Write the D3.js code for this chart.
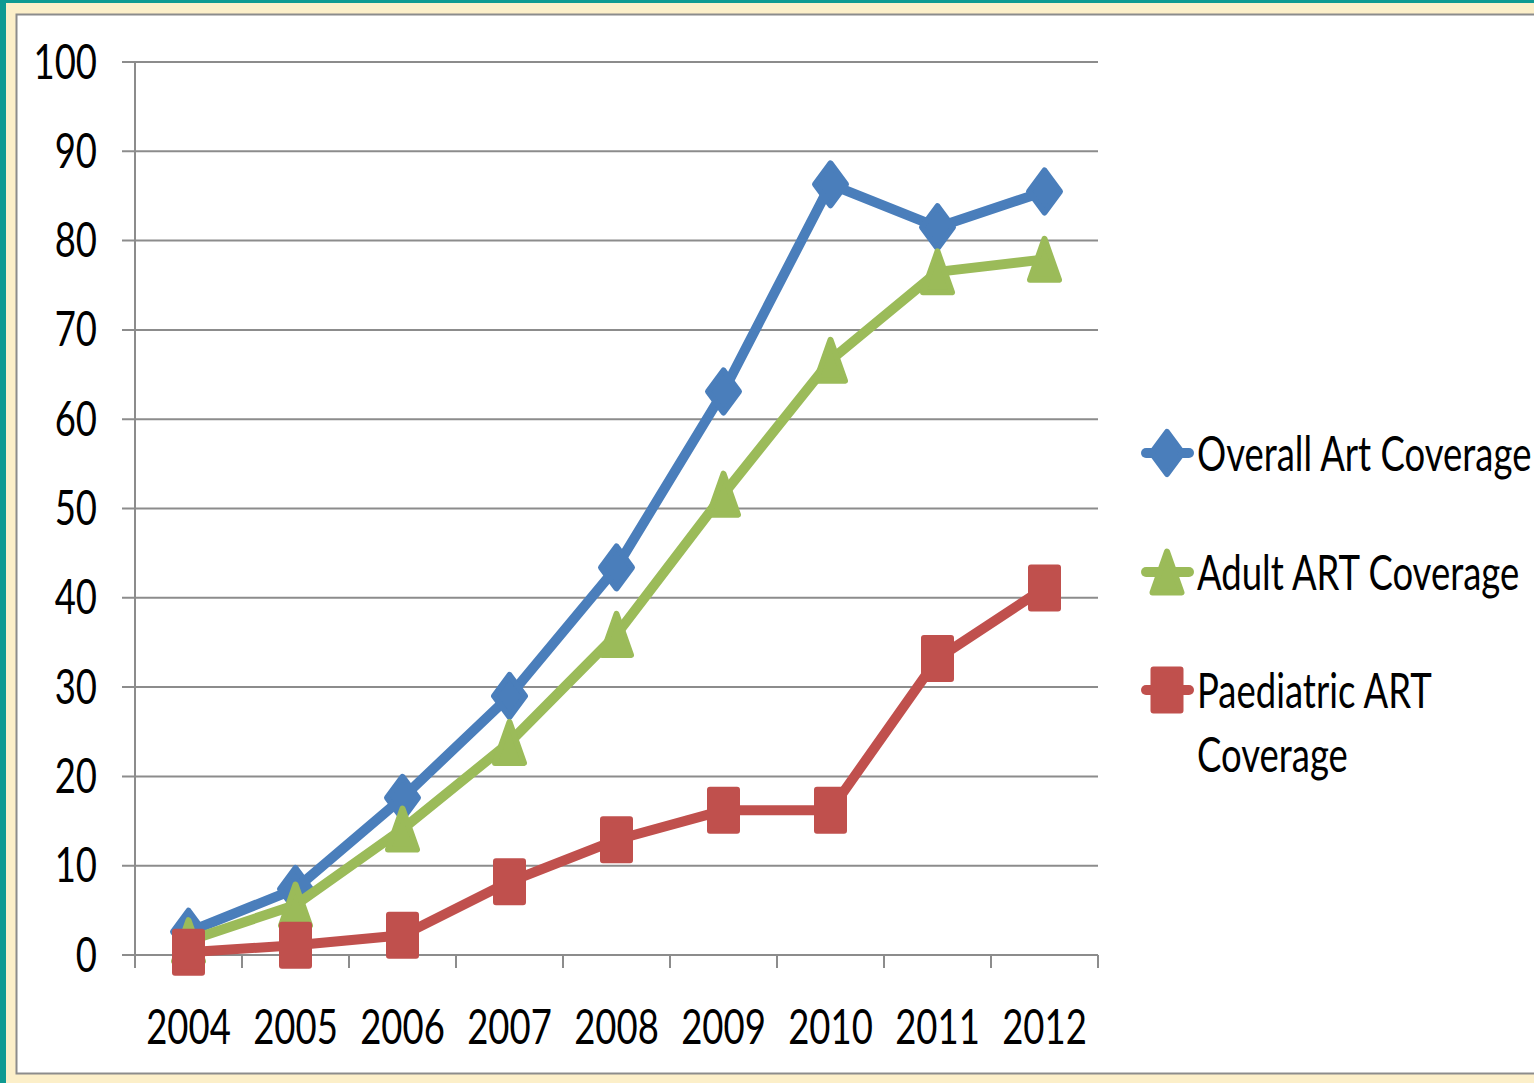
<!DOCTYPE html>
<html>
<head>
<meta charset="utf-8">
<script src="https://cdn.jsdelivr.net/npm/d3@7"></script>
<style>
  html, body { margin: 0; padding: 0; background: #fff; }
  svg { display: block; }
</style>
</head>
<body>
<svg id="chart" width="1534" height="1083"></svg>
<script>
// data
const years = ['2004', '2005', '2006', '2007', '2008', '2009', '2010', '2011', '2012'];
const overall = [2.6, 7.4, 17.6, 29.0, 43.4, 63.1, 86.3, 81.5, 85.5];
const adult = [1.6, 5.6, 14.1, 23.8, 35.9, 51.6, 66.6, 76.5, 77.9];
const paediatric = [0.3, 1.1, 2.2, 8.2, 12.9, 16.2, 16.2, 33.2, 41.1];
const yTicks = [0, 10, 20, 30, 40, 50, 60, 70, 80, 90, 100];
const seriesNames = ['Overall Art Coverage', 'Adult ART Coverage', 'Paediatric ART Coverage'];

const font = 'Lato, Calibri, sans-serif';
const fontSize = 36.5;
const stretch = 1.33; // source text is tall and narrow

const svg = d3.select('#chart');

// frame: teal edge, cream band, white panel
svg.append('rect').attr('width', 1534).attr('height', 1083).attr('fill', '#0f9a92');
svg.append('rect').attr('x', 6).attr('y', 3).attr('width', 1528).attr('height', 1080).attr('fill', '#fcefc9');
svg.append('rect')
  .attr('x', 16.5).attr('y', 14.5).attr('width', 1530).attr('height', 1059)
  .attr('fill', '#fff').attr('stroke', '#8c8c8c').attr('stroke-width', 2);

const x = d3.scaleBand().domain(years).range([135, 1098]);
const y = d3.scaleLinear().domain([0, 100]).range([955, 62]);

const label = (g, px, py, str, anchor) =>
  g.append('text')
    .attr('transform', `translate(${px},${py}) scale(1,${stretch})`)
    .attr('text-anchor', anchor)
    .attr('font-family', font)
    .attr('font-size', fontSize)
    .attr('fill', '#000')
    .text(str);

// gridlines + y labels
const grid = svg.append('g').attr('class', 'grid');
grid.selectAll('line')
  .data(yTicks)
  .join('line')
  .attr('x1', 122).attr('x2', x.range()[1])
  .attr('y1', (d) => y(d)).attr('y2', (d) => y(d))
  .attr('stroke', '#8c8c8c').attr('stroke-width', 2);

const yLabels = svg.append('g').attr('class', 'y-labels');
yTicks.forEach((t) => label(yLabels, 97, y(t) + 16.5, String(t), 'end'));

// axis lines and x ticks
svg.append('line')
  .attr('x1', 135).attr('x2', 135).attr('y1', y(100)).attr('y2', 968)
  .attr('stroke', '#8c8c8c').attr('stroke-width', 2);

const xEdges = years.map((d) => x(d)).concat([x.range()[1]]);
svg.append('g')
  .selectAll('line')
  .data(xEdges)
  .join('line')
  .attr('x1', (d) => d).attr('x2', (d) => d)
  .attr('y1', y(0)).attr('y2', 968)
  .attr('stroke', '#8c8c8c').attr('stroke-width', 2);

const xLabels = svg.append('g').attr('class', 'x-labels');
years.forEach((yr) => label(xLabels, x(yr) + x.bandwidth() / 2, 1044, yr, 'middle'));

// marker shapes, drawn at a given width/height
const shapes = {
  diamond: (w, h) => `M0,${-h / 2}L${w / 2},0L0,${h / 2}L${-w / 2},0Z`,
  triangle: (w, h) => `M0,${-h / 2}L${w / 2},${h / 2}L${-w / 2},${h / 2}Z`,
  square: (w, h) => `M${-w / 2},${-h / 2}H${w / 2}V${h / 2}H${-w / 2}Z`
};

const series = [
  { name: seriesNames[0], values: overall, color: '#4a7ebb', shape: 'diamond', w: 31, h: 42 },
  { name: seriesNames[1], values: adult, color: '#9bbb59', shape: 'triangle', w: 29, h: 41 },
  { name: seriesNames[2], values: paediatric, color: '#c0504d', shape: 'square', w: 27, h: 41 }
];

const line = d3.line()
  .x((d, i) => x(years[i]) + x.bandwidth() / 2)
  .y((d) => y(d));

const plot = svg.append('g').attr('class', 'series');

series.forEach((s) => {
  const g = plot.append('g');
  g.append('path')
    .attr('d', line(s.values))
    .attr('fill', 'none')
    .attr('stroke', s.color)
    .attr('stroke-width', 10)
    .attr('stroke-linejoin', 'round');

  g.selectAll('path.marker')
    .data(s.values)
    .join('path')
    .attr('class', 'marker')
    .attr('transform', (d, i) => `translate(${x(years[i]) + x.bandwidth() / 2},${y(d)})`)
    .attr('d', shapes[s.shape](s.w, s.h))
    .attr('fill', s.color)
    .attr('stroke', s.color)
    .attr('stroke-width', 6)
    .attr('stroke-linejoin', 'round');
});

// legend
const legend = svg.append('g').attr('class', 'legend');
const legendRows = [453, 572, 690];

series.forEach((s, i) => {
  const ly = legendRows[i];
  const g = legend.append('g');
  g.append('line')
    .attr('x1', 1146).attr('x2', 1189)
    .attr('y1', ly).attr('y2', ly)
    .attr('stroke', s.color).attr('stroke-width', 10).attr('stroke-linecap', 'round');
  g.append('path')
    .attr('transform', `translate(1167,${ly})`)
    .attr('d', shapes[s.shape](s.w, s.h))
    .attr('fill', s.color).attr('stroke', s.color)
    .attr('stroke-width', 6).attr('stroke-linejoin', 'round');
});

label(legend, 1197, 471, seriesNames[0], 'start');
label(legend, 1197, 590, seriesNames[1], 'start');
label(legend, 1197, 708, 'Paediatric ART', 'start');
label(legend, 1197, 772, 'Coverage', 'start');
</script>
</body>
</html>
